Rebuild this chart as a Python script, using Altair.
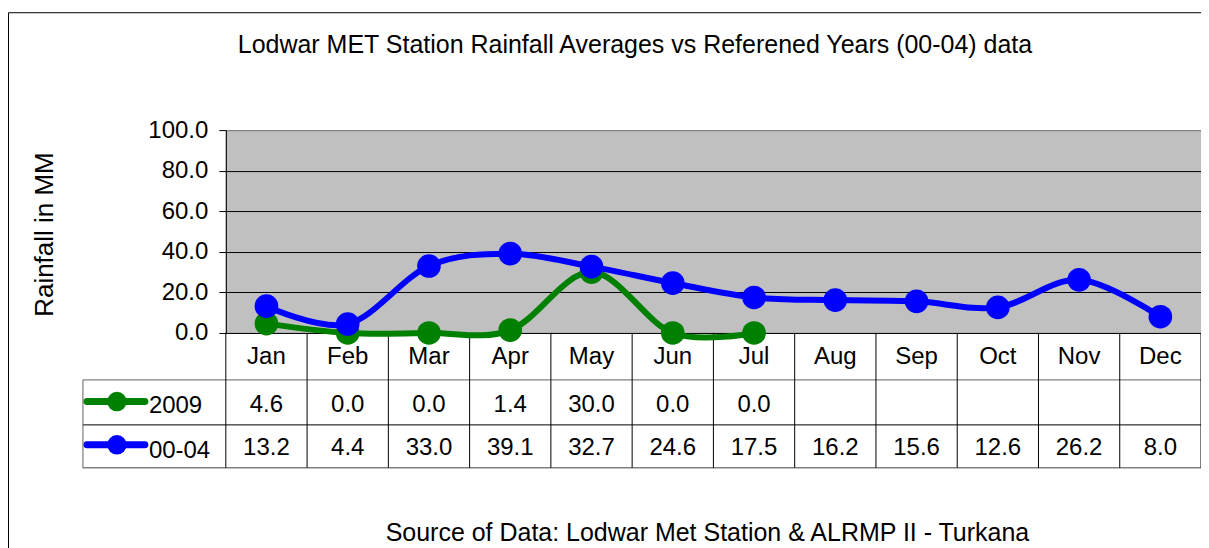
import altair as alt
import pandas as pd

# ---------------- data ----------------
MONTHS = ["Jan", "Feb", "Mar", "Apr", "May", "Jun", "Jul", "Aug", "Sep", "Oct", "Nov", "Dec"]
SERIES = ["2009", "00-04"]
RAIN_2009 = [4.6, 0.0, 0.0, 1.4, 30.0, 0.0, 0.0]
RAIN_0004 = [13.2, 4.4, 33.0, 39.1, 32.7, 24.6, 17.5, 16.2, 15.6, 12.6, 26.2, 8.0]
COLORS = ["#008000", "#0000FF"]
Y_TICKS = [0, 20, 40, 60, 80, 100]
TITLE = "Lodwar MET Station Rainfall Averages vs Referened Years (00-04) data"
Y_TITLE = "Rainfall in MM"
SOURCE = "Source of Data: Lodwar Met Station & ALRMP II - Turkana"

FONT = "Liberation Sans"
W, H = 976, 203

# ---------------- tables ----------------
series_vals = [RAIN_2009, RAIN_0004]
frames = []
for s, vals in zip(SERIES, series_vals):
    frames.append(pd.DataFrame({"series": s, "month": MONTHS[:len(vals)],
                                "idx": list(range(len(vals))), "value": vals}))
month_df = pd.DataFrame({"month": MONTHS, "idx": list(range(len(MONTHS)))})
bounds_df = pd.DataFrame({"b": [i - 0.5 for i in range(len(MONTHS) + 1)]})
one = pd.DataFrame({"k": [0]})

# ---------------- scales / encodings ----------------
x_scale = alt.Scale(domain=[-0.5, len(MONTHS) - 0.5], nice=False, zero=False)
y_scale = alt.Scale(domain=[Y_TICKS[0], Y_TICKS[-1]], nice=False, zero=False)
color_scale = alt.Scale(domain=SERIES, range=COLORS)

X = alt.X("idx:Q", scale=x_scale, axis=None)
y_axis = alt.Axis(
    values=Y_TICKS, format=".1f",
    labelFont=FONT, labelFontSize=24, labelColor="black", labelPadding=11,
    tickSize=7, tickColor="black", tickWidth=1,
    domainColor="black", domainWidth=1,
    grid=True, gridWidth=1,
    gridColor={"condition": {"test": "datum.value === 100", "value": "#808080"}, "value": "#000000"},
    title=Y_TITLE, titleFont=FONT, titleFontSize=26, titleFontWeight="normal",
    titleColor="black", titleAngle=270, titleAlign="center", titleBaseline="alphabetic",
    titleX=-173, titleY=104,
)
Y = alt.Y("value:Q", scale=y_scale, axis=y_axis)
C = alt.Color("series:N", scale=color_scale, legend=None)

# table row positions (pixels below the plot top)
MONTH_BASE = 234
VALUE_BASE = [281.7, 325]
LEG_LINE_Y = [271.7, 315]
LEG_TEXT_BASE = [283, 328]
ROW_LINES = [250, 295, 338]
LEG_LEFT = -143

layers = []

# table grid
for yy, col in zip(ROW_LINES, ["#606060", "#000000", "#404040"]):
    layers.append(alt.Chart(one).mark_rule(color=col, strokeWidth=1).encode(
        x=alt.value(LEG_LEFT), x2=alt.value(W), y=alt.value(yy)))
layers.append(alt.Chart(bounds_df).mark_rule(color="#000000", strokeWidth=1).encode(
    x=alt.X("b:Q", scale=x_scale, axis=None), y=alt.value(H), y2=alt.value(ROW_LINES[-1])))
layers.append(alt.Chart(one).mark_rule(color="#606060", strokeWidth=1).encode(
    x=alt.value(LEG_LEFT), y=alt.value(ROW_LINES[0]), y2=alt.value(ROW_LINES[-1])))

# outer chart border
layers.append(alt.Chart(one).mark_rule(color="#000000", strokeWidth=1).encode(
    x=alt.value(-217.5), y=alt.value(-117.5), y2=alt.value(430)))
layers.append(alt.Chart(one).mark_rule(color="#000000", strokeWidth=1).encode(
    x=alt.value(-217.5), x2=alt.value(1000), y=alt.value(-117.5)))

# month labels
layers.append(alt.Chart(month_df).mark_text(font=FONT, fontSize=24, color="black",
                                            align="center", baseline="alphabetic").encode(
    x=X, y=alt.value(MONTH_BASE), text="month:N"))

# table values + legend keys
for i, f in enumerate(frames):
    layers.append(alt.Chart(f).mark_text(font=FONT, fontSize=24, color="black",
                                         align="center", baseline="alphabetic").encode(
        x=X, y=alt.value(VALUE_BASE[i]), text=alt.Text("value:Q", format=".1f")))
    key = pd.DataFrame({"series": [SERIES[i]]})
    layers.append(alt.Chart(key).mark_rule(strokeWidth=7, strokeCap="round").encode(
        x=alt.value(-139), x2=alt.value(-81), y=alt.value(LEG_LINE_Y[i]), color=C))
    layers.append(alt.Chart(key).mark_point(filled=True, shape="circle", size=380, opacity=1).encode(
        x=alt.value(-109), y=alt.value(LEG_LINE_Y[i]), color=C))
    layers.append(alt.Chart(key).mark_text(font=FONT, fontSize=24, color="black",
                                           align="left", baseline="alphabetic").encode(
        x=alt.value(-77), y=alt.value(LEG_TEXT_BASE[i]), text="series:N"))

# series lines + markers (2009 first, 00-04 on top)
for i, f in enumerate(frames):
    layers.append(alt.Chart(f).mark_line(interpolate="cardinal", strokeWidth=6).encode(
        x=X, y=Y, color=C))
    layers.append(alt.Chart(f).mark_point(filled=True, shape="circle", size=560, opacity=1).encode(
        x=X, y=Y, color=C))

# title and source
layers.append(alt.Chart(pd.DataFrame({"t": [TITLE]})).mark_text(
    font=FONT, fontSize=25, color="black", align="center", baseline="alphabetic").encode(
    x=alt.value(409.5), y=alt.value(-77), text="t:N"))
layers.append(alt.Chart(pd.DataFrame({"t": [SOURCE]})).mark_text(
    font=FONT, fontSize=25, color="black", align="center", baseline="alphabetic").encode(
    x=alt.value(482), y=alt.value(411), text="t:N"))

chart = alt.layer(*layers).properties(
    width=W, height=H,
    autosize=alt.AutoSizeParams(type="none"),
    padding={"left": 218, "top": 122, "right": 0, "bottom": 218},
    background="white",
).configure_view(fill="#C0C0C0", stroke="#808080", strokeWidth=1)

chart.save("out.html", embed_options={"renderer": "svg", "actions": False})
